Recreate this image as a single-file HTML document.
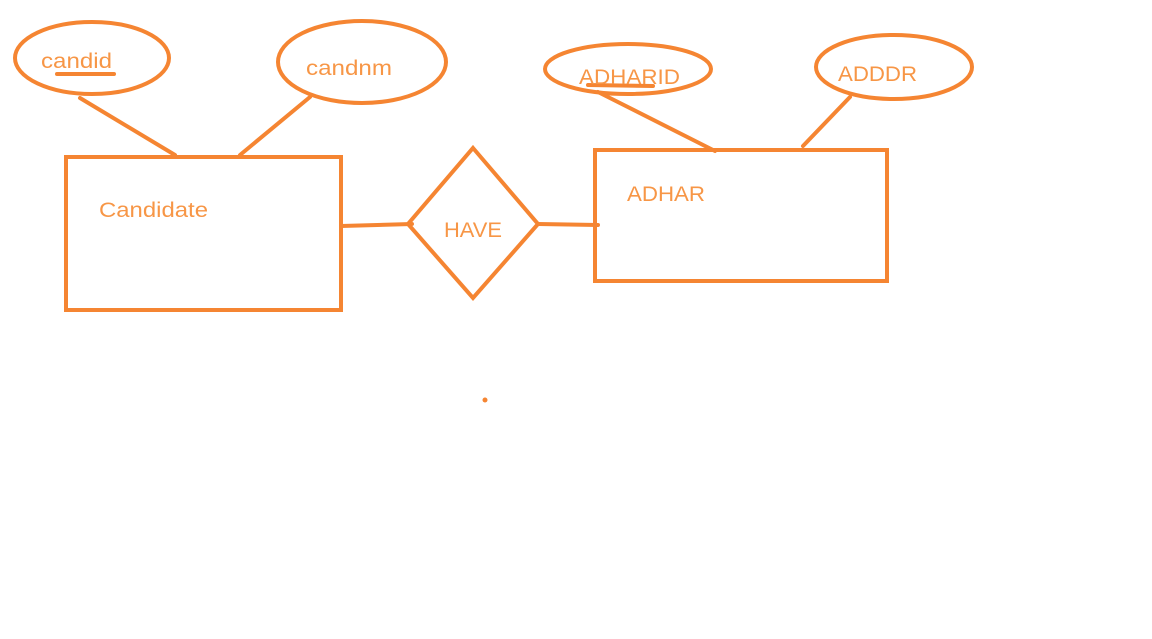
<!DOCTYPE html>
<html><head><style>html,body{margin:0;padding:0;background:#fff;width:1152px;height:639px;overflow:hidden}</style></head>
<body>
<svg width="1152" height="639" viewBox="0 0 1152 639" xmlns="http://www.w3.org/2000/svg">
<g fill="none" stroke="#f58532" stroke-width="4" stroke-linecap="round">
<ellipse cx="92" cy="58" rx="77" ry="36"/>
<ellipse cx="362" cy="62" rx="84" ry="41"/>
<ellipse cx="628" cy="69" rx="83" ry="25"/>
<ellipse cx="894" cy="67" rx="78" ry="32"/>
<rect x="66" y="157" width="275" height="153"/>
<rect x="595" y="150" width="292" height="131"/>
<polygon points="473,148 538,224 473,298 408,224"/>
<line x1="80" y1="98" x2="175" y2="155"/>
<line x1="310" y1="97" x2="240" y2="155"/>
<line x1="598" y1="92" x2="715" y2="151"/>
<line x1="850" y1="97" x2="803" y2="146"/>
<line x1="341" y1="226" x2="412" y2="224"/>
<line x1="538" y1="224" x2="598" y2="225"/>
<line x1="57" y1="74" x2="114" y2="74"/>
<line x1="588" y1="85" x2="653" y2="86"/>
</g>
<circle cx="485" cy="400" r="2.5" fill="#f58532"/>
<g fill="#f79646" font-family="Liberation Sans, sans-serif" font-size="21" lengthAdjust="spacingAndGlyphs">
<text x="41" y="68" textLength="71" lengthAdjust="spacingAndGlyphs">candid</text>
<text x="306" y="75" textLength="86" lengthAdjust="spacingAndGlyphs">candnm</text>
<text x="579" y="84" textLength="101" lengthAdjust="spacingAndGlyphs">ADHARID</text>
<text x="838" y="81" textLength="79" lengthAdjust="spacingAndGlyphs">ADDDR</text>
<text x="99" y="217" textLength="109" lengthAdjust="spacingAndGlyphs">Candidate</text>
<text x="627" y="201" textLength="78" lengthAdjust="spacingAndGlyphs">ADHAR</text>
<text x="444" y="237" textLength="58" lengthAdjust="spacingAndGlyphs">HAVE</text>
</g>
</svg>
</body></html>
